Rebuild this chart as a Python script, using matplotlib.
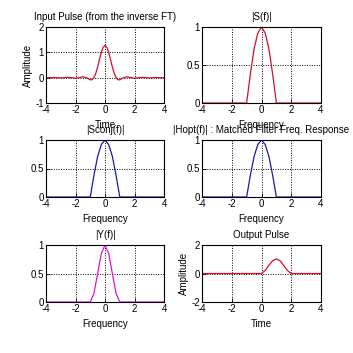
import matplotlib
matplotlib.use("Agg")
import matplotlib.pyplot as plt
import numpy as np

plt.rcParams['font.family'] = ['Liberation Sans Narrow', 'Liberation Sans', 'DejaVu Sans']
plt.rcParams['axes.unicode_minus'] = False

# ---- data ----
t_in = [-4, -3.5, -3, -2.5, -2, -1.75, -1.5, -1.25, -1.125, -1, -0.875, -0.75, -0.625, -0.5,
        -0.375, -0.25, -0.125, 0, 0.125, 0.25, 0.375, 0.5, 0.625, 0.75, 0.875, 1, 1.125,
        1.25, 1.5, 1.75, 2, 2.5, 3, 3.5, 4]
x_in = [-0.005, 0.005, -0.009, 0.013, -0.02, 0.0, 0.036, 0.0, -0.047, -0.085, -0.08, 0.0, 0.17, 0.42,
        0.72, 1.0, 1.2, 1.28, 1.2, 1.0, 0.72, 0.42, 0.17, 0.0, -0.08, -0.085, -0.047,
        0.0, 0.036, 0.0, -0.02, 0.013, -0.009, 0.005, -0.005]

f = [-4, -1, -0.75, -0.5, -0.25, 0, 0.25, 0.5, 0.75, 1, 4]
S_mag = [0, 0, 0.38, 0.71, 0.92, 1.0, 0.92, 0.71, 0.38, 0, 0]
Sconj_mag = [0, 0, 0.38, 0.71, 0.92, 1.0, 0.92, 0.71, 0.38, 0, 0]
Hopt_mag = [0, 0, 0.38, 0.71, 0.92, 1.0, 0.92, 0.71, 0.38, 0, 0]
Y_mag = [0, 0, 0.15, 0.5, 0.85, 1.0, 0.85, 0.5, 0.15, 0, 0]

t_out = [-4, 0, 0.25, 0.5, 0.75, 1.0, 1.25, 1.5, 1.75, 2, 4]
y_out = [0, 0, 0.22, 0.58, 0.9, 1.02, 0.9, 0.55, 0.2, 0, 0]

RED = '#d0102a'
BLUE = '#1a1aa8'
MAG = '#e010e0'

W = H = 353
fig = plt.figure(figsize=(3.53, 3.53), dpi=100)

def ax_at(left, top, w, h):
    return fig.add_axes([left / W, (H - top - h) / H, w / W, h / H])

FS = 7

def style(ax, xt, yt, ylim, yticklabels=None):
    ax.set_xlim(-4, 4)
    ax.set_ylim(*ylim)
    ax.set_xticks(xt)
    ax.set_yticks(yt)
    if yticklabels is not None:
        ax.set_yticklabels(yticklabels)
    ax.tick_params(direction='in', length=3, width=0.6, labelsize=FS, pad=1.5)
    ax.grid(True, color='black', linestyle=(0, (1, 1.5)), linewidth=0.7)
    for s in ax.spines.values():
        s.set_linewidth(0.8)

xt = [-4, -2, 0, 2, 4]
TP = 5
LP = 3.5

a1 = ax_at(46, 27, 118, 76)
a1.plot(t_in, x_in, color=RED, lw=0.9)
style(a1, xt, [-1, 0, 1, 2], (-1, 2))
a1.set_title('Input Pulse (from the inverse FT)', fontsize=FS, pad=TP)
a1.set_xlabel('Time', fontsize=FS, labelpad=LP)
a1.set_ylabel('Amplitude', fontsize=FS, labelpad=2)

a2 = ax_at(202, 27, 119, 76)
a2.plot(f, S_mag, color=RED, lw=0.9)
style(a2, xt, [0, 0.5, 1], (0, 1), ['0', '0.5', '1'])
a2.set_title('|S(f)|', fontsize=FS, pad=TP)
a2.set_xlabel('Frequency', fontsize=FS, labelpad=LP)

a3 = ax_at(46, 140, 118, 57)
a3.plot(f, Sconj_mag, color=BLUE, lw=0.9)
style(a3, xt, [0, 0.5, 1], (0, 1), ['0', '0.5', '1'])
a3.set_title('|Sconj(f)|', fontsize=FS, pad=TP)
a3.set_xlabel('Frequency', fontsize=FS, labelpad=LP)

a4 = ax_at(202, 140, 119, 57)
a4.plot(f, Hopt_mag, color=BLUE, lw=0.9)
style(a4, xt, [0, 0.5, 1], (0, 1), ['0', '0.5', '1'])
a4.set_title('|Hopt(f)| : Matched Filter Freq. Response', fontsize=FS, pad=TP)
a4.set_xlabel('Frequency', fontsize=FS, labelpad=LP)

a5 = ax_at(46, 245, 118, 57)
a5.plot(f, Y_mag, color=MAG, lw=0.9)
style(a5, xt, [0, 0.5, 1], (0, 1), ['0', '0.5', '1'])
a5.set_title('|Y(f)|', fontsize=FS, pad=TP)
a5.set_xlabel('Frequency', fontsize=FS, labelpad=LP)

a6 = ax_at(202, 245, 119, 57)
a6.plot(t_out, y_out, color=RED, lw=0.9)
style(a6, xt, [-2, 0, 2], (-2, 2))
a6.set_title('Output Pulse', fontsize=FS, pad=TP)
a6.set_xlabel('Time', fontsize=FS, labelpad=LP)
a6.set_ylabel('Amplitude', fontsize=FS, labelpad=2)

fig.savefig('out.png', dpi=100, facecolor='white')
